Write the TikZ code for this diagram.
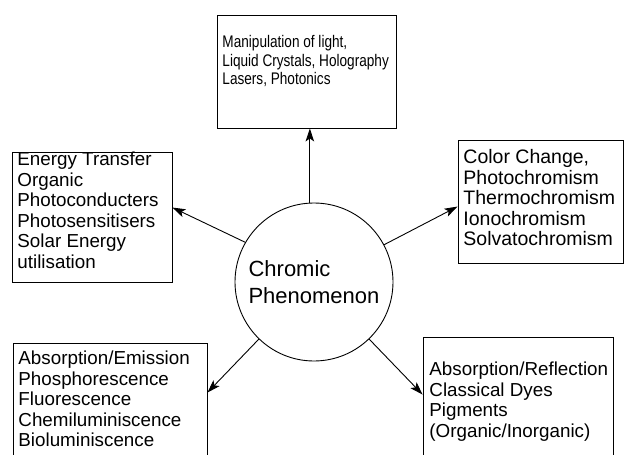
\documentclass[tikz,border=0pt]{standalone}
\usepackage{fontspec}
\setmainfont{Liberation Sans}
\newfontfamily\narrowfont[FakeStretch=0.81]{Liberation Sans}
\usetikzlibrary{arrows.meta}

\begin{document}
\begin{tikzpicture}[x=1pt,y=-1pt,line width=0.9pt,
    box/.style={draw,inner sep=0pt},
    txt/.style={anchor=north west,inner sep=0pt,align=left,
      font=\fontsize{18.8}{20.5}\selectfont},
    >={Stealth[length=13pt,width=8.5pt,inset=3pt]}]
  \useasboundingbox (0,0) rectangle (625,455);

  \node (cp) [draw,circle,minimum size=158pt,inner sep=0pt,align=left,
    font=\fontsize{22}{27}\selectfont] at (314,282) {Chromic\\Phenomenon};

  \node (ml) [box,minimum width=179pt,minimum height=113pt] at (306.5,71.5) {};
  \node (en) [box,minimum width=160pt,minimum height=130pt] at (92,217) {};
  \node (cc) [box,minimum width=165pt,minimum height=123pt] at (540.5,201.5) {};
  \node (ae) [box,minimum width=194pt,minimum height=132pt] at (110,409) {};
  \node (ar) [box,minimum width=190pt,minimum height=138pt] at (518,406) {};

  \node (mlt) [txt,font=\narrowfont\fontsize{16.8}{18.6}\selectfont] at (222,35)
    {Manipulation of light,\\Liquid Crystals, Holography\\Lasers, Photonics};
  \node (ent) [txt] at (17,151.5)
    {Energy Transfer\\Organic\\Photoconducters\\Photosensitisers\\Solar Energy\\utilisation};
  \node (cct) [txt,font=\fontsize{19.5}{20.5}\selectfont] at (463,149)
    {Color Change,\\Photochromism\\Thermochromism\\Ionochromism\\Solvatochromism};
  \node (aet) [txt] at (18,350.5)
    {Absorption/Emission\\Phosphorescence\\Fluorescence\\Chemiluminiscence\\Bioluminiscence};
  \node (art) [txt] at (429,361.5)
    {Absorption/Reflection\\Classical Dyes\\Pigments\\(Organic/Inorganic)};

  \path (cp.93.6) coordinate (cpml) {};
  \draw[->] (cpml) -- (cpml |- ml.south);
  \path (node cs:name=en,anchor=north east) +(0,56) coordinate (eni) {};
  \draw[->] (cp.150) -- (eni);
  \path (node cs:name=cc,anchor=north west) +(0,67) coordinate (cci) {};
  \draw[->] (cp.28.4) -- (cci);
  \path (node cs:name=ae,anchor=north east) +(0,50) coordinate (aei) {};
  \draw[->] (cp.226.5) -- (aei);
  \path (node cs:name=ar,anchor=north west) +(0,58) coordinate (ari) {};
  \draw[->] (cp.314) -- (ari);
\end{tikzpicture}
\end{document}
